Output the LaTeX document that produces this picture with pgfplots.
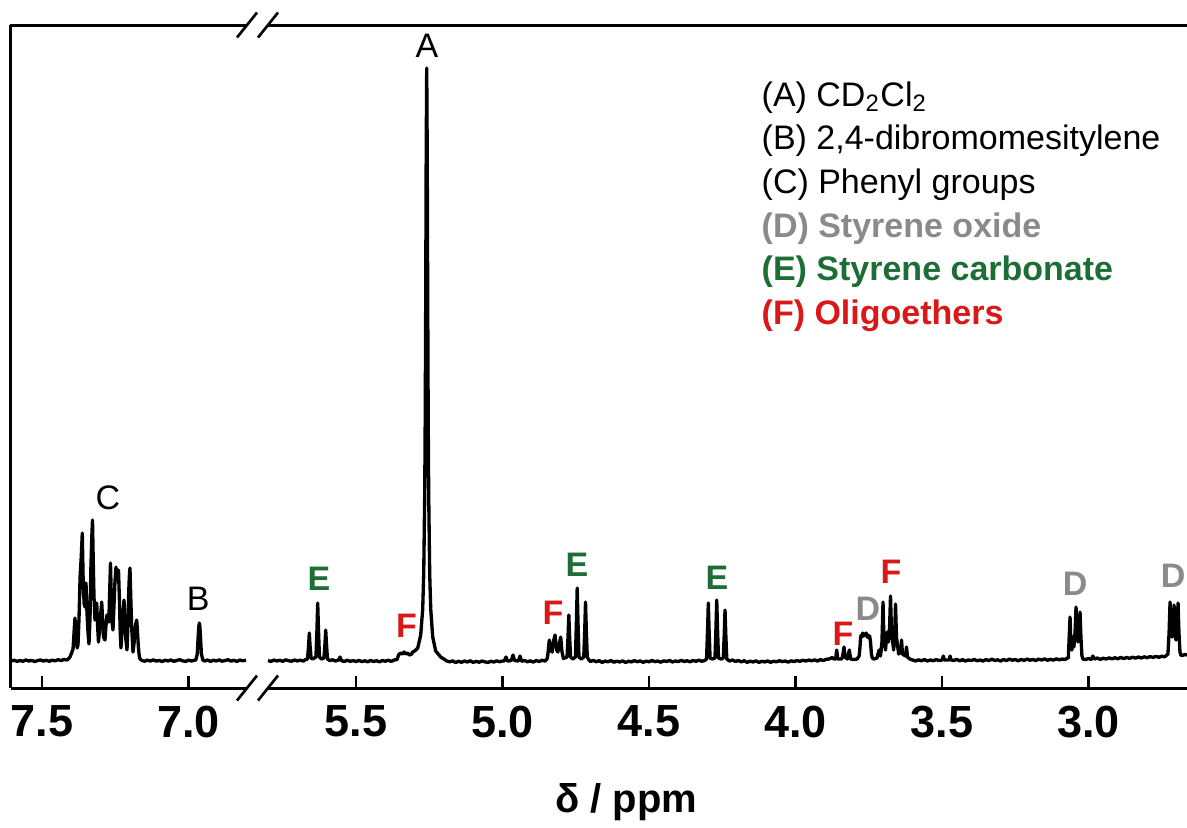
\documentclass[border=0pt]{standalone}
\usepackage{fontspec}
\setmainfont{Liberation Sans}
\usepackage{pgfplots}
\usepackage{pgfplotstable}
\pgfplotsset{compat=1.18}

\definecolor{dgray}{RGB}{138,138,138}
\definecolor{dgreen}{RGB}{28,110,52}
\definecolor{dred}{RGB}{218,24,24}

% shift of the 5.8-2.66 ppm part so that it sits right of the axis break
\def\brkshift{0.9283}

% 7.6 - 6.80 ppm
\pgfplotstableread{
d i
7.606 1.0
7.595 1.8
7.585 0.6
7.575 1.5
7.565 0.8
7.555 2.0
7.545 1.0
7.535 1.6
7.525 0.5
7.515 1.4
7.505 2.1
7.495 0.9
7.485 1.7
7.475 0.7
7.465 1.9
7.455 1.2
7.445 2.3
7.435 1.4
7.425 2.6
7.415 2.0
7.4100 3
7.4044 5
7.3990 9
7.3940 13
7.3905 30
7.3874 44
7.3840 25
7.3800 14
7.3771 17
7.3735 45
7.3700 85
7.3660 105
7.3625 129
7.3590 75
7.3560 58
7.3532 55
7.3498 79
7.3465 50
7.3430 30
7.3396 18
7.3360 45
7.3330 95
7.3300 125
7.3276 142
7.3250 100
7.3225 65
7.3191 42
7.3160 50
7.3133 59
7.3100 35
7.3072 20
7.3040 30
7.3010 45
7.2985 52
7.2962 60
7.2935 45
7.2900 25
7.2850 22
7.2820 35
7.2782 47
7.2750 42
7.2720 40
7.2690 70
7.2662 99
7.2635 65
7.2610 40
7.2577 32
7.2545 55
7.2510 80
7.2474 95
7.2450 85
7.2430 82
7.2410 88
7.2389 92
7.2360 65
7.2330 30
7.2304 14
7.2275 28
7.2240 45
7.2201 62
7.2170 40
7.2135 22
7.2099 12
7.2070 35
7.2040 70
7.2020 85
7.1997 94
7.1970 65
7.1940 35
7.1894 10
7.1860 18
7.1830 30
7.1800 38
7.1768 42
7.1740 30
7.1710 15
7.1680 6
7.1655 3
7.1587 1.5
7.150 0.8
7.140 1.9
7.130 1.0
7.120 2.2
7.110 0.9
7.100 1.6
7.090 0.5
7.080 1.8
7.070 1.1
7.060 2.0
7.050 0.7
7.040 1.5
7.030 2.4
7.020 1.2
7.010 0.6
7.000 1.9
6.990 1.0
6.981 1.7
6.975 2
6.970 8
6.967 25
6.965 35
6.963 39
6.961 35
6.959 25
6.956 8
6.951 2
6.945 1.0
6.935 2.0
6.925 0.6
6.915 1.8
6.905 1.1
6.895 2.2
6.885 0.8
6.875 1.5
6.865 2.3
6.855 0.9
6.845 1.7
6.835 0.6
6.825 2.0
6.815 1.2
6.8038 1.8
}\leftpart

% 5.80 - 2.66 ppm
\pgfplotstableread{
d i
5.8004 1.5
5.790 0.6
5.780 2.0
5.770 1.0
5.760 1.8
5.750 0.7
5.740 2.2
5.730 1.3
5.720 0.8
5.710 2.0
5.700 1.1
5.690 1.9
5.680 0.9
5.672 2.5
5.6654 3
5.6620 16
5.6594 29
5.6568 16
5.6534 4
5.648 3
5.6367 5
5.6333 32
5.6307 59
5.6281 32
5.6247 5
5.618 3
5.6094 4
5.6060 18
5.6034 32
5.6008 18
5.5974 3
5.590 1.5
5.580 2.2
5.570 1.0
5.560 2.0
5.5546 5
5.550 1.5
5.540 0.5
5.530 1.8
5.520 0.7
5.510 1.4
5.500 0.5
5.490 1.6
5.480 0.4
5.470 1.2
5.460 0.3
5.450 1.5
5.440 0.6
5.430 1.3
5.420 0.2
5.410 1.5
5.400 0.8
5.390 1.8
5.380 0.6
5.370 2.0
5.360 2.5
5.355 7
5.348 9
5.342 8
5.336 10
5.330 8
5.324 9
5.318 7
5.310 8
5.3065 10
5.300 11
5.2894 14
5.2792 27
5.2724 53
5.2689 88
5.2655 167
5.2638 243
5.2621 362
5.2604 512
5.2587 594
5.2570 512
5.2553 362
5.2536 243
5.2519 167
5.2485 88
5.2450 53
5.2382 25
5.2280 11
5.2109 5
5.200 3
5.190 1.0
5.180 0.2
5.170 1.2
5.160 -0.5
5.150 0.8
5.140 -0.3
5.130 1.0
5.120 0.0
5.110 1.3
5.100 -0.4
5.090 0.7
5.080 -0.2
5.070 1.0
5.060 0.2
5.050 -0.5
5.040 0.8
5.030 0.0
5.020 1.1
5.010 0.3
5.000 1.0
4.9940 1
4.9881 5
4.9830 1
4.9700 1.5
4.9642 7
4.9590 1.5
4.9460 1.0
4.9403 6
4.9350 0.8
4.925 1.5
4.915 0.3
4.905 1.2
4.895 0.0
4.885 1.5
4.875 0.5
4.865 1.8
4.855 1.0
4.848 3
4.8450 8
4.8403 22
4.8360 12
4.8305 10
4.8265 20
4.8208 27
4.8150 12
4.8110 10
4.8060 18
4.8014 25
4.7970 10
4.7920 3.5
4.7797 5
4.7763 26
4.7737 47
4.7711 26
4.7677 5
4.7600 3
4.7511 5
4.7477 41
4.7451 74
4.7425 41
4.7391 5
4.7310 3
4.7227 5
4.7193 33
4.7167 60
4.7141 33
4.7107 5
4.705 2
4.700 0.5
4.690 1.6
4.680 0.3
4.670 1.4
4.660 -0.4
4.650 1.0
4.640 0.2
4.630 1.5
4.620 -0.2
4.610 0.9
4.600 0.0
4.590 1.2
4.580 -0.5
4.570 0.8
4.560 0.1
4.550 1.4
4.540 0.3
4.530 1.1
4.520 -0.3
4.510 0.9
4.500 0.2
4.490 1.5
4.480 0.4
4.470 1.0
4.460 -0.2
4.450 1.2
4.440 0.5
4.430 1.6
4.420 0.0
4.410 1.1
4.400 0.4
4.390 1.7
4.380 0.6
4.370 1.3
4.360 0.2
4.350 1.5
4.340 0.7
4.330 1.9
4.320 0.8
4.310 1.5
4.3036 3
4.3002 32
4.2976 59
4.2950 32
4.2916 4
4.2830 3
4.2749 4
4.2715 34
4.2689 62
4.2663 34
4.2629 4
4.2540 3
4.2466 4
4.2432 28
4.2406 52
4.2380 28
4.2346 3
4.225 1.0
4.215 2.0
4.205 0.6
4.195 1.5
4.185 0.2
4.175 1.3
4.165 -0.3
4.155 0.9
4.145 0.0
4.135 1.2
4.125 -0.4
4.115 0.7
4.105 0.1
4.095 1.1
4.085 -0.3
4.075 0.8
4.065 0.2
4.055 1.3
4.045 0.4
4.035 1.0
4.025 -0.1
4.015 1.2
4.005 0.5
3.995 1.5
3.985 0.7
3.975 1.8
3.965 1.0
3.955 2.0
3.945 1.2
3.935 2.2
3.925 1.0
3.915 2.4
3.905 1.5
3.895 2.8
3.885 3.0
3.875 4.5
3.868 3
3.8630 3
3.8594 12
3.8560 3
3.8420 3
3.8380 8
3.8345 15
3.8310 5
3.8230 3
3.8164 12
3.8120 3
3.800 2.5
3.790 3
3.7830 6
3.7800 15
3.7780 24
3.7760 27
3.7735 25
3.7710 29
3.7680 26
3.7650 28
3.7620 27
3.7590 29
3.7560 25
3.7530 27
3.7500 24
3.7470 26
3.7440 20
3.7410 8
3.7380 4
3.7330 3
3.7220 4
3.7150 12
3.7100 6
3.7050 20
3.7014 60
3.6985 25
3.6930 12
3.6877 30
3.6830 20
3.6790 35
3.6758 66
3.6725 30
3.6650 12
3.6615 30
3.6587 58
3.6555 25
3.6480 8
3.6410 10
3.6382 22
3.6350 8
3.6250 6
3.6212 15
3.6180 5
3.6100 3
3.600 2.0
3.590 1.0
3.580 2.2
3.570 1.2
3.560 2.5
3.550 1.0
3.540 2.0
3.530 1.3
3.520 2.4
3.510 1.5
3.500 2
3.4956 6
3.4920 2
3.4760 2
3.4727 6
3.4690 2
3.460 1.5
3.450 2.6
3.440 1.2
3.430 2.3
3.420 1.0
3.410 2.1
3.400 1.4
3.390 2.6
3.380 1.2
3.370 2.0
3.360 1.0
3.350 2.4
3.340 1.4
3.330 2.8
3.320 1.6
3.310 2.2
3.300 1.0
3.290 2.5
3.280 1.5
3.270 2.9
3.260 1.8
3.250 2.5
3.240 1.2
3.230 2.6
3.220 1.6
3.210 3.0
3.200 1.8
3.190 2.6
3.180 1.5
3.170 2.9
3.160 2.0
3.150 3.1
3.140 1.8
3.130 2.7
3.120 1.9
3.110 3.2
3.100 2.2
3.090 3.0
3.080 2.5
3.072 4
3.0690 4
3.0660 25
3.0631 45
3.0605 20
3.0570 12
3.0535 25
3.0500 15
3.0460 30
3.0427 55
3.0395 30
3.0360 20
3.0325 35
3.0290 50
3.0260 25
3.0225 6
3.0190 3
3.010 2.5
3.000 3.6
2.990 2.5
2.9853 6
2.980 3.0
2.970 4.0
2.960 2.6
2.950 3.8
2.940 3.0
2.930 4.2
2.920 3.1
2.910 4.3
2.900 3.3
2.890 4.5
2.880 3.4
2.870 4.6
2.860 3.6
2.850 4.8
2.840 3.9
2.830 5.0
2.820 4.0
2.810 5.2
2.800 4.3
2.790 5.4
2.780 4.6
2.770 5.6
2.760 4.8
2.750 5.8
2.740 5.2
2.733 7
2.7290 8
2.7250 30
2.7218 60
2.7185 30
2.7150 25
2.7115 32
2.7082 57
2.7050 28
2.7015 22
2.6980 30
2.6945 59
2.6915 30
2.6880 10
2.6850 7
2.680 6.5
2.672 7.5
2.664 7.0
}\rightpart

\begin{document}
\begin{tikzpicture}
\begin{axis}[
  scale only axis, width=352.8pt, height=198.9pt,
  x dir=reverse, xmin=3.5923, xmax=7.6058, ymin=-26, ymax=637,
  axis x line*=bottom, axis y line*=left,
  axis line style={line width=0.9pt, black},
  xtick={7.5,7.0,6.4283,5.9283,5.4283,4.9283,4.4283,3.9283},
  xticklabels={7.5,7.0,5.5,5.0,4.5,4.0,3.5,3.0},
  ytick=\empty,
  tick align=inside, major tick length=3.6pt,
  tick style={line width=0.8pt, black},
  xticklabel style={font=\fontsize{13.5}{14}\selectfont\bfseries,
                    anchor=north, inner sep=0pt, yshift=-5.1pt},
  /pgf/number format/assume math mode=true,
  clip mode=individual,
]
\addplot[black, line width=1pt, line join=round] table[x=d, y=i] {\leftpart};
\addplot[black, line width=1pt, line join=round]
  table[x expr=\thisrow{d}+\brkshift, y=i] {\rightpart};

% peak labels
\begin{scope}[every node/.style={inner sep=0pt, font=\fontsize{10.2}{12}\selectfont}]
\node at (axis cs:6.1860,616.5) {A};
\node at (axis cs:7.2747,164.5) {C};
\node at (axis cs:6.9666,63) {B};
\node[text=dgreen, font=\fontsize{10.2}{12}\selectfont\bfseries] at (axis cs:6.5546,83) {E};
\node[text=dgreen, font=\fontsize{10.2}{12}\selectfont\bfseries] at (axis cs:5.6741,97) {E};
\node[text=dgreen, font=\fontsize{10.2}{12}\selectfont\bfseries] at (axis cs:5.1962,84) {E};
\node[text=dred, font=\fontsize{10.2}{12}\selectfont\bfseries] at (axis cs:6.2560,36) {F};
\node[text=dred, font=\fontsize{10.2}{12}\selectfont\bfseries] at (axis cs:5.7560,49) {F};
\node[text=dred, font=\fontsize{10.2}{12}\selectfont\bfseries] at (axis cs:4.7662,28) {F};
\node[text=dred, font=\fontsize{10.2}{12}\selectfont\bfseries] at (axis cs:4.6024,90) {F};
\node[text=dgray, font=\fontsize{10.2}{12}\selectfont\bfseries] at (axis cs:4.6809,53) {D};
\node[text=dgray, font=\fontsize{10.2}{12}\selectfont\bfseries] at (axis cs:3.9744,78) {D};
\node[text=dgray, font=\fontsize{10.2}{12}\selectfont\bfseries] at (axis cs:3.6399,86) {D};
\end{scope}

% key
\begin{scope}[every node/.style={inner sep=0pt, anchor=base west, font=\fontsize{10.2}{12}\selectfont}]
\node at (axis cs:5.046,556) {(A) CD\textsubscript{2}Cl\textsubscript{2}};
\node at (axis cs:5.046,512.3) {(B) 2,4-dibromomesitylene};
\node at (axis cs:5.046,468.6) {(C) Phenyl groups};
\node[text=dgray, font=\fontsize{10.2}{12}\selectfont\bfseries] at (axis cs:5.046,424.9) {(D) Styrene oxide};
\node[text=dgreen, font=\fontsize{10.2}{12}\selectfont\bfseries] at (axis cs:5.046,381.2) {(E) Styrene carbonate};
\node[text=dred, font=\fontsize{10.2}{12}\selectfont\bfseries] at (axis cs:5.046,337.5) {(F) Oligoethers};
\end{scope}

\node[anchor=base, inner sep=0pt, font=\fontsize{12}{14}\selectfont\bfseries]
  at (axis cs:5.5068,-150) {δ / ppm};

\coordinate (bt) at (axis cs:6.7645,637);
\coordinate (bb) at (axis cs:6.7645,-26);
\end{axis}

% top frame line and the axis break marks
\draw[line width=0.9pt, line cap=rect] (current axis.north west) -- (current axis.north east);
\foreach \c in {bt,bb} {
  \fill[white] ([shift={(-6.15pt,-3.75pt)}]\c) -- ([shift={(-0.15pt,3.75pt)}]\c)
    -- ([shift={(6.15pt,3.75pt)}]\c) -- ([shift={(0.15pt,-3.75pt)}]\c) -- cycle;
  \draw[line width=0.8pt] ([shift={(-6.15pt,-3.75pt)}]\c) -- ([shift={(-0.15pt,3.75pt)}]\c);
  \draw[line width=0.8pt] ([shift={(0.15pt,-3.75pt)}]\c) -- ([shift={(6.15pt,3.75pt)}]\c);
}

\pgfresetboundingbox
\path[use as bounding box] ([shift={(-3.3pt,-41.7pt)}]current axis.south west)
  rectangle ([shift={(0pt,7.5pt)}]current axis.north east);
\end{tikzpicture}
\end{document}
